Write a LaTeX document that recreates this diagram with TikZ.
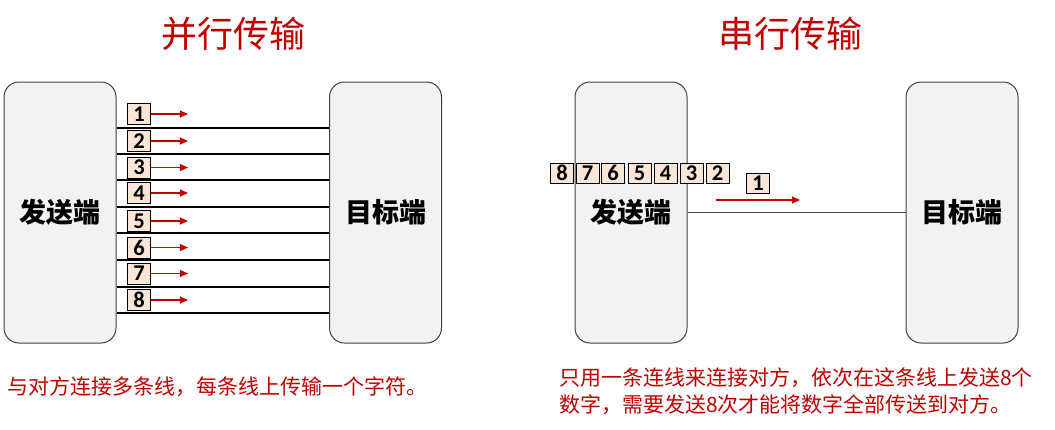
\documentclass[tikz,border=0pt]{standalone}
\usepackage{fontspec}
\setmainfont{Noto Sans CJK SC}
\newfontfamily\numfont{Carlito}
\usetikzlibrary{arrows.meta}
\definecolor{deepred}{HTML}{C00000}
\definecolor{boxgray}{HTML}{F2F2F2}
\definecolor{peach}{HTML}{FBE5D6}
\tikzset{
  endbox/.style={draw=black!75, line width=1pt, fill=boxgray, rounded corners=15pt,
    minimum width=112pt, minimum height=261pt, inner sep=0pt,
    font=\fontsize{27}{29}\selectfont\bfseries},
  numbox/.style={draw=black, line width=0.9pt, fill=peach, minimum width=23pt,
    minimum height=21pt, inner sep=0pt, font=\numfont\fontsize{22.5}{23}\selectfont\bfseries},
  wire/.style={draw=black, line width=1.1pt},
  redarrow/.style={draw=deepred, line width=1.1pt, -{Triangle[length=8pt,width=7pt]}},
  title/.style={text=deepred, font=\fontsize{36}{40}\selectfont},
  caption/.style={text=deepred, font=\fontsize{21}{27}\selectfont, anchor=west, inner sep=0pt, align=left}
}
\begin{document}
\begin{tikzpicture}[x=1pt,y=-1pt]
\useasboundingbox (0,0) rectangle (1055,429);
% titles
\node[title] (t1) at (233,34) {并行传输};
\node[title] (t2) at (790,34) {串行传输};
% left panel
\node[endbox] (sL) at (60,212.5) {发送端};
\node[endbox] (tL) at (385.5,212.5) {目标端};
\foreach \y in {128,154,180,207,233,260,287,313}{
  \draw[wire] (sL.east |- 0,\y) -- (tL.west |- 0,\y);
}
\foreach \n/\y in {1/114,2/141,3/167.5,4/193,5/221,6/247.5,7/273.5,8/300}{
  \node[numbox] (p\n) at (139,\y) {\n};
  \draw[redarrow] (p\n.east) -- ++(37,0);
}
% right panel
\node[endbox] (sR) at (631,212.5) {发送端};
\node[endbox] (tR) at (962,212.5) {目标端};
\draw[draw=black!70, line width=1.1pt] (sR.east) -- (tR.west);
\foreach \n/\x in {8/562,7/587.5,6/613,5/639.5,4/665.5,3/691.5,2/717.5}{
  \node[numbox, minimum height=20pt] (q\n) at (\x,173) {\n};
}
\node[numbox, minimum height=20pt] (q1) at (758,183) {1};
\coordinate (a1) at (716,200);
\coordinate (a2) at (800,200);
\draw[redarrow] (a1) -- (a2);
% captions
\node[caption] (c1) at (7,387) {与对方连接多条线，每条线上传输一个字符。};
\node[caption] (c2) at (559,391) {只用一条连线来连接对方，依次在这条线上发送8个\\数字，需要发送8次才能将数字全部传送到对方。};
\end{tikzpicture}
\end{document}
